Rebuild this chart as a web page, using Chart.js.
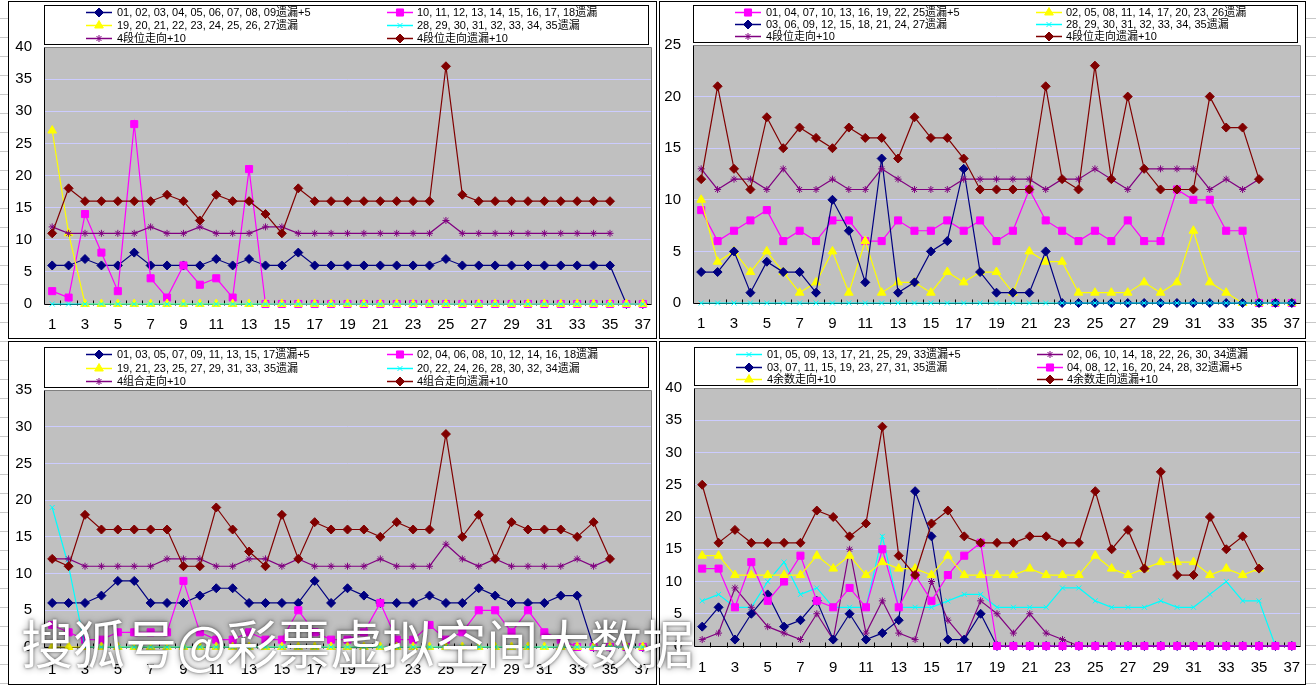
<!DOCTYPE html>
<html><head><meta charset="utf-8">
<script src="https://cdn.jsdelivr.net/npm/chart.js@4.4.1/dist/chart.umd.min.js"></script>
<style>
html,body{margin:0;padding:0;width:1316px;height:685px;overflow:hidden;background:#fff;position:relative;
 font-family:"Liberation Sans","Noto Sans CJK SC",sans-serif;}
.edge{position:absolute;top:0;height:685px;background:repeating-linear-gradient(to bottom,#fff 0,#fff 18px,#c8c8c8 18px,#c8c8c8 19px);}
.panel{position:absolute;border:1px solid #000;box-sizing:border-box;background:#fff;}
canvas{position:absolute;display:block;}
.wm{position:absolute;left:21px;top:612px;font-family:"Noto Sans CJK SC",sans-serif;font-size:52px;line-height:60px;color:#fff;
 white-space:nowrap;z-index:10;text-shadow:0 0 3px rgba(0,0,0,.55),0 0 7px rgba(0,0,0,.45);}
</style></head>
<body>
<div class="edge" style="left:0;width:8px"></div>
<div class="edge" style="left:1305px;width:11px"></div>
<div class="panel" style="left:8px;top:1px;width:649px;height:338px"></div>
<div class="panel" style="left:659px;top:1px;width:647px;height:338px"></div>
<div class="panel" style="left:8px;top:341px;width:649px;height:344px"></div>
<div class="panel" style="left:659px;top:341px;width:647px;height:344px"></div>
<canvas id="c1" width="649" height="338" style="left:8px;top:1px"></canvas>
<canvas id="c2" width="647" height="338" style="left:659px;top:1px"></canvas>
<canvas id="c3" width="649" height="344" style="left:8px;top:341px"></canvas>
<canvas id="c4" width="647" height="344" style="left:659px;top:341px"></canvas>
<div class="wm">搜狐号@彩票虚拟空间大数据</div>
<script>
// ---------- data ----------
const categories = ['1','2','3','4','5','6','7','8','9','10','11','12','13','14','15','16','17','18','19','20','21','22','23','24','25','26','27','28','29','30','31','32','33','34','35','36','37'];

// Panel 1 (top-left): 4段位
const p1Labels = ['01, 02, 03, 04, 05, 06, 07, 08, 09遗漏+5','10, 11, 12, 13, 14, 15, 16, 17, 18遗漏','19, 20, 21, 22, 23, 24, 25, 26, 27遗漏','28, 29, 30, 31, 32, 33, 34, 35遗漏','4段位走向+10','4段位走向遗漏+10'];
const p1s1 = [6,6,7,6,6,8,6,6,6,6,7,6,7,6,6,8,6,6,6,6,6,6,6,6,7,6,6,6,6,6,6,6,6,6,6,0,0];
const p1s2 = [2,1,14,8,2,28,4,1,6,3,4,1,21,0,0,0,0,0,0,0,0,0,0,0,0,0,0,0,0,0,0,0,0,0,0,0,0];
const p1s3 = [27,11,0,0,0,0,0,0,0,0,0,0,0,0,0,0,0,0,0,0,0,0,0,0,0,0,0,0,0,0,0,0,0,0,0,0,0];
const p1s4 = [0,0,0,0,0,0,0,0,0,0,0,0,0,0,0,0,0,0,0,0,0,0,0,0,0,0,0,0,0,0,0,0,0,0,0,0,0];
const p1s5 = [12,11,11,11,11,11,12,11,11,12,11,11,11,12,12,11,11,11,11,11,11,11,11,11,13,11,11,11,11,11,11,11,11,11,11];
const p1s6 = [11,18,16,16,16,16,16,17,16,13,17,16,16,14,11,18,16,16,16,16,16,16,16,16,37,17,16,16,16,16,16,16,16,16,16];

// Panel 2 (top-right): 4段位 (3-step)
const p2Labels = ['01, 04, 07, 10, 13, 16, 19, 22, 25遗漏+5','02, 05, 08, 11, 14, 17, 20, 23, 26遗漏','03, 06, 09, 12, 15, 18, 21, 24, 27遗漏','28, 29, 30, 31, 32, 33, 34, 35遗漏','4段位走向+10','4段位走向遗漏+10'];
const p2s1 = [9,6,7,8,9,6,7,6,8,8,6,6,8,7,7,8,7,8,6,7,11,8,7,6,7,6,8,6,6,11,10,10,7,7,0,0,0];
const p2s2 = [10,4,5,3,5,3,1,2,5,1,6,1,2,2,1,3,2,3,3,1,5,4,4,1,1,1,1,2,1,2,7,2,1,0,0,0,0];
const p2s3 = [3,3,5,1,4,3,3,1,10,7,2,14,1,2,5,6,13,3,1,1,1,5,0,0,0,0,0,0,0,0,0,0,0,0,0,0,0];
const p2s4 = [0,0,0,0,0,0,0,0,0,0,0,0,0,0,0,0,0,0,0,0,0,0,0,0,0,0,0,0,0,0,0,0,0,0,0,0,0];
const p2s5 = [13,11,12,12,11,13,11,11,12,11,11,13,12,11,11,11,12,12,12,12,12,11,12,12,13,12,11,13,13,13,13,11,12,11,12];
const p2s6 = [12,21,13,11,18,15,17,16,15,17,16,16,14,18,16,16,14,11,11,11,11,21,12,11,23,12,20,13,11,11,11,20,17,17,12];

// Panel 3 (bottom-left): 4组合
const p3Labels = ['01, 03, 05, 07, 09, 11, 13, 15, 17遗漏+5','02, 04, 06, 08, 10, 12, 14, 16, 18遗漏','19, 21, 23, 25, 27, 29, 31, 33, 35遗漏','20, 22, 24, 26, 28, 30, 32, 34遗漏','4组合走向+10','4组合走向遗漏+10'];
const p3s1 = [6,6,6,7,9,9,6,6,6,7,8,8,6,6,6,6,9,6,8,7,6,6,6,7,6,6,8,7,6,6,6,7,7,0,0,0,0];
const p3s2 = [3,2,1,1,2,2,2,2,9,2,1,1,2,1,1,5,2,1,1,2,6,1,1,3,1,2,5,5,2,5,2,1,0,0,0,0,0];
const p3s3 = [0,0,0,0,0,0,0,0,0,0,0,0,0,0,0,0,0,0,0,0,0,0,0,0,0,0,0,0,0,0,0,0,0,0,0,0,0];
const p3s4 = [19,11,0,0,0,0,0,0,0,0,0,0,0,0,0,0,0,0,0,0,0,0,0,0,0,0,0,0,0,0,0,0,0,0,0,0,0];
const p3s5 = [12,12,11,11,11,11,11,12,12,12,11,11,12,12,11,12,11,11,11,11,12,11,11,11,14,12,11,12,11,11,11,11,12,11,12];
const p3s6 = [12,11,18,16,16,16,16,16,11,11,19,16,13,11,18,12,17,16,16,16,15,17,16,16,29,15,18,12,17,16,16,16,15,17,12];

// Panel 4 (bottom-right): 4余数
const p4Labels = ['01, 05, 09, 13, 17, 21, 25, 29, 33遗漏+5','02, 06, 10, 14, 18, 22, 26, 30, 34遗漏','03, 07, 11, 15, 19, 23, 27, 31, 35遗漏','04, 08, 12, 16, 20, 24, 28, 32遗漏+5','4余数走向+10','4余数走向遗漏+10'];
const p4s1 = [7,8,6,6,10,13,8,9,6,6,6,17,6,6,6,7,8,8,6,6,6,6,9,9,7,6,6,6,7,6,6,8,10,7,7,0,0];
const p4s2 = [1,2,9,6,3,2,1,5,1,15,2,7,2,1,10,4,1,7,5,2,5,2,1,0,0,0,0,0,0,0,0,0,0,0,0,0,0];
const p4s3 = [3,6,1,5,8,3,4,7,1,5,1,2,4,24,17,1,1,5,0,0,0,0,0,0,0,0,0,0,0,0,0,0,0,0,0,0,0];
const p4s4 = [12,12,6,13,7,10,14,7,6,9,6,15,6,11,7,11,14,16,0,0,0,0,0,0,0,0,0,0,0,0,0,0,0,0,0,0,0];
const p4s5 = [14,14,11,11,11,11,11,14,12,14,11,13,12,12,11,14,11,11,11,11,12,11,11,11,14,12,11,12,13,13,13,11,12,11,12];
const p4s6 = [25,16,18,16,16,16,16,21,20,17,19,34,14,11,19,21,17,16,16,16,17,17,16,16,24,15,18,12,27,11,11,20,15,17,12];

// ---------- styles ----------
const ST = {
  navy:   {color:'#000080', pointStyle:'rectRot',  radius:4.5},
  magenta:{color:'#FF00FF', pointStyle:'rect',     radius:5},
  yellow: {color:'#FFFF00', pointStyle:'triangle', radius:5},
  cyan:   {color:'#00FFFF', pointStyle:'crossRot', radius:3.5},
  purple: {color:'#800080', pointStyle:'star',     radius:3.5},
  maroon: {color:'#800000', pointStyle:'rectRot',  radius:4.5}
};

function drawMarker(ctx, st, x, y){
  ctx.save();
  ctx.fillStyle = st.color; ctx.strokeStyle = st.color; ctx.lineWidth = 1;
  const r = st.radius, s = st.pointStyle;
  ctx.beginPath();
  if (s === 'rectRot'){ ctx.moveTo(x, y-r); ctx.lineTo(x+r, y); ctx.lineTo(x, y+r); ctx.lineTo(x-r, y); ctx.closePath(); ctx.fill(); ctx.stroke(); }
  else if (s === 'rect'){ const h = r*Math.SQRT1_2; ctx.rect(x-h, y-h, 2*h, 2*h); ctx.fill(); ctx.stroke(); }
  else if (s === 'triangle'){ for (let k=0;k<3;k++){ const a = k*2*Math.PI/3; const px = x+Math.sin(a)*r, py = y-Math.cos(a)*r; k?ctx.lineTo(px,py):ctx.moveTo(px,py);} ctx.closePath(); ctx.fill(); ctx.stroke(); }
  else { const d = r*Math.SQRT1_2;
    ctx.moveTo(x-d,y-d); ctx.lineTo(x+d,y+d); ctx.moveTo(x-d,y+d); ctx.lineTo(x+d,y-d);
    if (s === 'star'){ ctx.moveTo(x,y-r); ctx.lineTo(x,y+r); ctx.moveTo(x-r,y); ctx.lineTo(x+r,y); }
    ctx.stroke(); }
  ctx.restore();
}

const framePlugin = {
  id:'excelFrame',
  beforeDraw(chart){
    const {ctx, chartArea:a} = chart;
    ctx.save(); ctx.fillStyle = '#C0C0C0';
    ctx.fillRect(a.left, a.top, a.right-a.left, a.bottom-a.top); ctx.restore();
  },
  beforeDatasetsDraw(chart){
    const {ctx, chartArea:a} = chart;
    const L = Math.round(a.left)+0.5, R = Math.round(a.right)+0.5, T = Math.round(a.top)+0.5, B = Math.round(a.bottom)+0.5;
    ctx.save(); ctx.lineWidth = 1;
    ctx.strokeStyle = '#808080';
    ctx.beginPath(); ctx.moveTo(L, T); ctx.lineTo(R, T); ctx.lineTo(R, B); ctx.stroke();
    ctx.strokeStyle = '#000';
    ctx.beginPath(); ctx.moveTo(L, T); ctx.lineTo(L, B); ctx.lineTo(R, B); ctx.stroke();
    const n = chart.data.labels.length, w = (a.right-a.left)/n;
    ctx.beginPath();
    for (let i=1;i<n;i++){ const x = Math.round(a.left + i*w)+0.5; ctx.moveTo(x, B-4); ctx.lineTo(x, B+1); }
    ctx.stroke();
    ctx.restore();
  }
};

const legendPlugin = {
  id:'excelLegend',
  afterDraw(chart, args, opts){
    const {ctx, chartArea:a} = chart;
    const x0 = Math.round(a.left)+0.5, y0 = opts.top+0.5;
    const w = Math.round(a.right-3-a.left), h = Math.round(a.top-3-opts.top);
    ctx.save();
    ctx.fillStyle = '#fff'; ctx.fillRect(x0, y0, w, h);
    ctx.strokeStyle = '#000'; ctx.lineWidth = 1; ctx.strokeRect(x0, y0, w, h);
    ctx.font = '11px "Liberation Sans","Noto Sans CJK SC",sans-serif';
    ctx.textBaseline = 'middle'; ctx.textAlign = 'left';
    opts.items.forEach((it, i)=>{
      const col = i % 2, row = Math.floor(i/2);
      const cy = Math.round(y0 + h*(2*row+1)/6) + 0.5;
      const mx = a.left + (col ? 356 : 55);
      ctx.strokeStyle = it.st.color; ctx.lineWidth = 1.5;
      ctx.beginPath(); ctx.moveTo(mx-13, cy); ctx.lineTo(mx+13, cy); ctx.stroke();
      drawMarker(ctx, it.st, mx, cy);
      ctx.fillStyle = '#000';
      ctx.fillText(it.label, a.left + (col ? 373 : 73), cy+0.5);
    });
    ctx.restore();
  }
};

function makeChart(id, W, H, area, ymax, labels, series, legendTop, xPad){
  const n = series.length;
  const datasets = series.map((s, i)=>({
    label: labels[i], data: s.data,
    borderColor: s.st.color, backgroundColor: s.st.color,
    pointBackgroundColor: s.st.color, pointBorderColor: s.st.color,
    borderWidth: 1.2, pointBorderWidth: 1,
    pointStyle: s.st.pointStyle, pointRadius: s.st.radius, pointHoverRadius: s.st.radius,
    tension: 0, clip: false, order: n - i
  }));
  new Chart(document.getElementById(id), {
    type: 'line',
    data: {labels: categories, datasets},
    options: {
      responsive: false, animation: false, devicePixelRatio: 1,
      events: [],
      layout: {padding: {left: 0, top: area.t, right: W - area.r, bottom: 0}},
      plugins: {
        legend: {display: false}, tooltip: {enabled: false},
        excelLegend: {top: legendTop, items: series.map((s,i)=>({label: labels[i], st: s.st}))}
      },
      scales: {
        x: {
          type: 'category', offset: true,
          grid: {display: false, drawTicks: false},
          border: {display: false},
          ticks: {autoSkip: false, maxRotation: 0, minRotation: 0, padding: xPad, color: '#000',
                  font: {family: '"Liberation Sans", sans-serif', size: 15},
                  callback: (v, i) => (i % 2 === 0 ? categories[i] : '')},
          afterFit: (s) => { s.height = H - area.b; s.paddingLeft = 0; s.paddingRight = 0; }
        },
        y: {
          min: 0, max: ymax,
          grid: {color: '#CCCCFF', lineWidth: 1, drawTicks: false},
          border: {display: false},
          ticks: {stepSize: 5, padding: 12, color: '#000',
                  font: {family: '"Liberation Sans", sans-serif', size: 15}},
          afterFit: (s) => { s.width = area.l; s.paddingTop = 0; s.paddingBottom = 0; }
        }
      }
    },
    plugins: [framePlugin, legendPlugin]
  });
}

makeChart('c1', 649, 338, {l:36, t:46, r:643, b:303}, 40, p1Labels, [
  {data:p1s1, st:ST.navy},{data:p1s2, st:ST.magenta},{data:p1s3, st:ST.yellow},
  {data:p1s4, st:ST.cyan},{data:p1s5, st:ST.purple},{data:p1s6, st:ST.maroon}], 4, 12);

makeChart('c2', 647, 338, {l:34, t:44, r:642, b:302}, 25, p2Labels, [
  {data:p2s1, st:ST.magenta},{data:p2s2, st:ST.yellow},{data:p2s3, st:ST.navy},
  {data:p2s4, st:ST.cyan},{data:p2s5, st:ST.purple},{data:p2s6, st:ST.maroon}], 4, 12);

makeChart('c3', 649, 344, {l:36, t:49, r:645, b:306}, 35, p3Labels, [
  {data:p3s1, st:ST.navy},{data:p3s2, st:ST.magenta},{data:p3s3, st:ST.yellow},
  {data:p3s4, st:ST.cyan},{data:p3s5, st:ST.purple},{data:p3s6, st:ST.maroon}], 6, 14);

makeChart('c4', 647, 344, {l:35, t:47, r:642, b:305}, 40, p4Labels, [
  {data:p4s1, st:ST.cyan},{data:p4s2, st:ST.purple},{data:p4s3, st:ST.navy},
  {data:p4s4, st:ST.magenta},{data:p4s5, st:ST.yellow},{data:p4s6, st:ST.maroon}], 6, 13);
</script>
</body></html>
